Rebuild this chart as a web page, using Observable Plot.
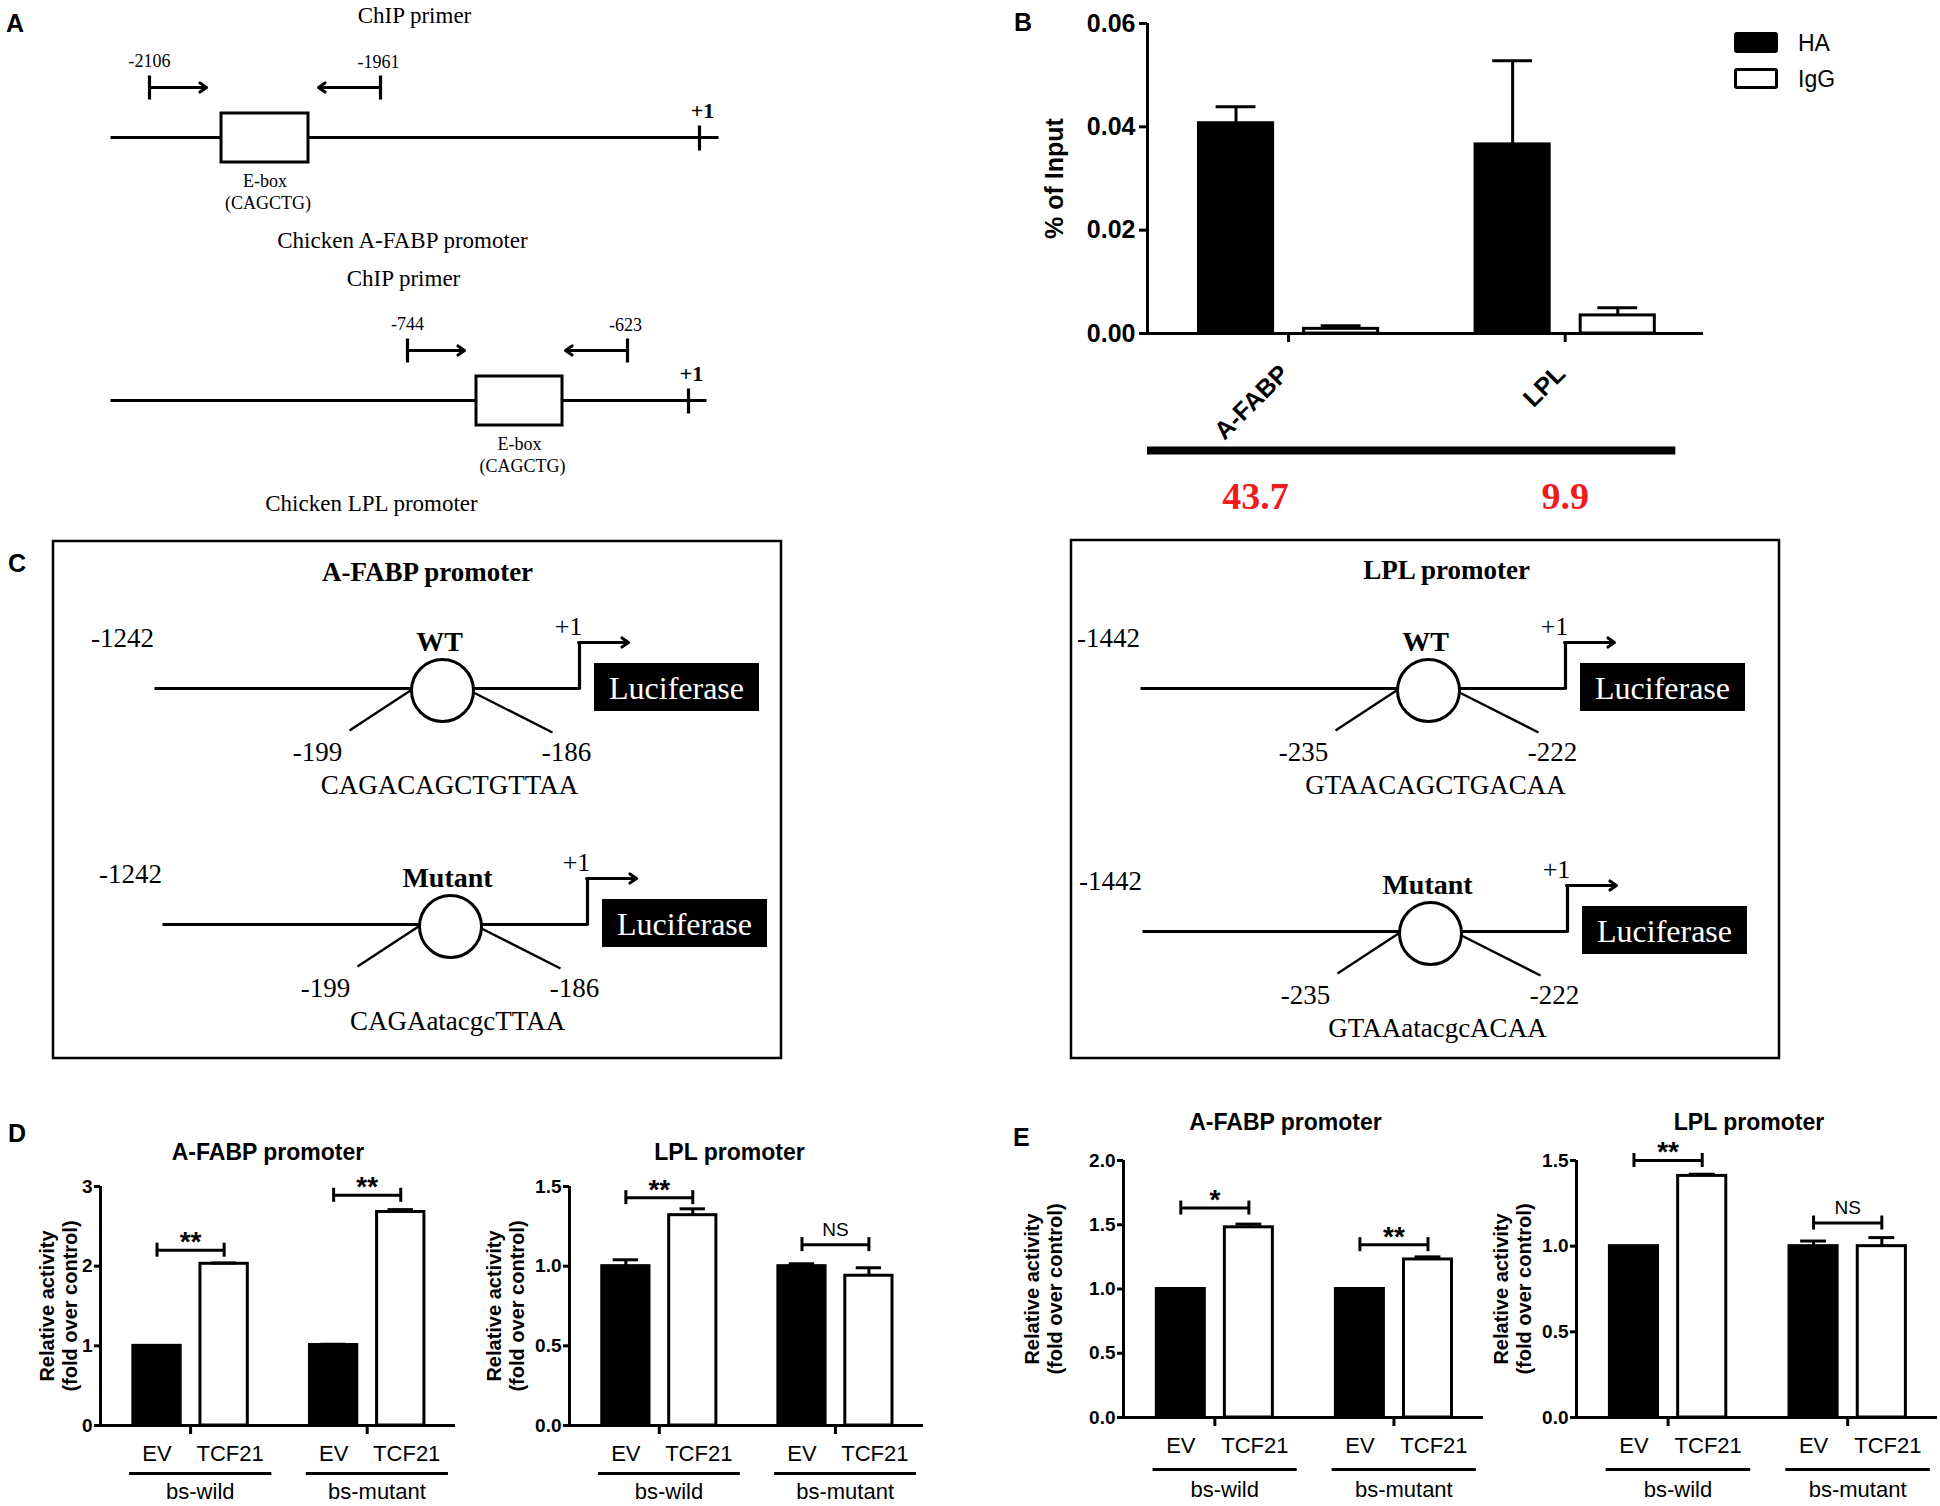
<!DOCTYPE html>
<html>
<head>
<meta charset="utf-8">
<script src="https://cdn.jsdelivr.net/npm/d3@7"></script>
<script src="https://cdn.jsdelivr.net/npm/@observablehq/plot@0.6"></script>
<style>
  html, body { margin: 0; padding: 0; background: #fff; }
  #fig { position: relative; width: 1940px; height: 1506px; background: #fff; overflow: hidden;
         font-family: Arial, 'Liberation Sans', Helvetica, sans-serif; color: #000; }
  .letter { position: absolute; font-weight: bold; font-size: 25px; line-height: 25px; }
  .lg-sw { position: absolute; width: 44px; height: 21px; box-sizing: border-box; border-radius: 3px; }
  .lg-tx { position: absolute; font-size: 23px; line-height: 23px; }
</style>
</head>
<body>
<div id="fig"></div>
<script>
// ======================= DATA =======================
// Panel A – ChIP primer schematics
const aPromoterNames = ["Chicken A-FABP promoter", "Chicken LPL promoter"];
const aPrimerTitle = "ChIP primer";
const aPrimerPos = [["-2106", "-1961"], ["-744", "-623"]];
const aMotif = "E-box";
const aMotifSeq = "(CAGCTG)";
const tssLabel = "+1";

// Panel B – ChIP-qPCR (% of input)
const chipTargets = ["A-FABP", "LPL"];
const chipAntibodies = ["HA", "IgG"];
const chipHA = [0.0407, 0.0366];
const chipHAErr = [0.0032, 0.0162];
const chipIgG = [0.0009, 0.0035];
const chipIgGErr = [0.0006, 0.0015];
const chipTicks = [0, 0.02, 0.04, 0.06];
const chipFold = ["43.7", "9.9"];

// Panel C – luciferase reporter constructs
const cPromoterTitles = ["A-FABP promoter", "LPL promoter"];
const cVariants = ["WT", "Mutant"];
const cStart = ["-1242", "-1442"];
const cSiteFrom = ["-199", "-235"];
const cSiteTo = ["-186", "-222"];
const cWtSeq = ["CAGACAGCTGTTAA", "GTAACAGCTGACAA"];
const cMutSeq = ["CAGAatacgcTTAA", "GTAAatacgcACAA"];
const reporter = "Luciferase";

// Panels D & E – reporter activity (order: bs-wild EV, bs-wild TCF21, bs-mutant EV, bs-mutant TCF21)
const constructs = ["bs-wild", "bs-mutant"];
const vectors = ["EV", "TCF21"];
const yLabelD = "Relative activity\n(fold over control)";
const dAfabpMean = [1.00, 2.03, 1.01, 2.68];
const dAfabpErr  = [0.00, 0.01, 0.01, 0.03];
const dAfabpSig  = ["**", "**"];
const dAfabpSigY = [2.20, 2.89];
const dLplMean = [1.00, 1.32, 1.00, 0.94];
const dLplErr  = [0.04, 0.04, 0.015, 0.05];
const dLplSig  = ["**", "NS"];
const dLplSigY = [1.43, 1.135];
const eAfabpMean = [1.00, 1.48, 1.00, 1.23];
const eAfabpErr  = [0.00, 0.025, 0.00, 0.02];
const eAfabpSig  = ["*", "**"];
const eAfabpSigY = [1.63, 1.345];
const eLplMean = [1.00, 1.41, 1.00, 1.00];
const eLplErr  = [0.00, 0.01, 0.03, 0.05];
const eLplSig  = ["**", "NS"];
const eLplSigY = [1.50, 1.135];
const ticks3 = [0, 1, 2, 3];
const ticks15 = [0, 0.5, 1.0, 1.5];
const ticks20 = [0, 0.5, 1.0, 1.5, 2.0];

// ======================= HELPERS =======================
const SANS = "Arial, 'Liberation Sans', Helvetica, sans-serif";
const SERIF = "'Times New Roman', 'Liberation Serif', 'DejaVu Serif', serif";
const fig = document.getElementById("fig");
function place(node, left, top) {
  node.style.position = "absolute";
  node.style.left = left + "px";
  node.style.top = top + "px";
  node.style.maxWidth = "none";
  fig.appendChild(node);
}
function addDiv(cls, text, left, top, extra) {
  const d = document.createElement("div");
  d.className = cls; d.textContent = text || "";
  d.style.left = left + "px"; d.style.top = top + "px";
  if (extra) Object.assign(d.style, extra);
  fig.appendChild(d);
}

// ======================= DIAGRAMS (A & C) =======================
const links = [], thinLinks = [], arrows = [], boxes = [], frames = [], circles = [],
      texts = [], boldTexts = [], lucRects = [], lucTexts = [];

const aLayout = [
  {ly: 137, lineX: [110, 718], box: [221, 308], plus: 699, primers: [149, 380], chip: 414, name: 402},
  {ly: 400, lineX: [110, 706], box: [476, 562], plus: 688, primers: [407, 627], chip: 403, name: 371}
];
aLayout.forEach((c, i) => {
  const ly = c.ly, [p0, p1] = c.primers, bx = (c.box[0] + c.box[1]) / 2;
  links.push({x1: c.lineX[0], y1: ly, x2: c.lineX[1], y2: ly});
  links.push({x1: c.plus, y1: ly - 12, x2: c.plus, y2: ly + 13});
  links.push({x1: p0, y1: ly - 62, x2: p0, y2: ly - 38});
  links.push({x1: p1, y1: ly - 62, x2: p1, y2: ly - 38});
  arrows.push({x1: p0, y1: ly - 50, x2: p0 + 57, y2: ly - 50});
  arrows.push({x1: p1, y1: ly - 50, x2: p1 - 62, y2: ly - 50});
  boxes.push({x1: c.box[0], x2: c.box[1], y1: ly - 24, y2: ly + 25});
  texts.push({x: c.chip, y: ly - 122, t: aPrimerTitle, s: 23});
  texts.push({x: p0, y: ly - 76, t: aPrimerPos[i][0], s: 18});
  texts.push({x: p1 - 2, y: ly - 75, t: aPrimerPos[i][1], s: 18});
  texts.push({x: bx, y: ly + 44, t: aMotif, s: 18});
  texts.push({x: bx + 3, y: ly + 66, t: aMotifSeq, s: 18});
  texts.push({x: c.name, y: ly + 103, t: aPromoterNames[i], s: 23});
  boldTexts.push({x: c.plus + 3, y: ly - 27, t: tssLabel, s: 22});
});

const cLayout = [
  {frame: [53, 781, 541, 1058], title: [427, 572], rows: [{cx: 442, ly: 688}, {cx: 450, ly: 924}]},
  {frame: [1071, 1779, 540, 1058], title: [1446, 570], rows: [{cx: 1428, ly: 688}, {cx: 1430, ly: 931}]}
];
cLayout.forEach((p, k) => {
  frames.push({x1: p.frame[0], x2: p.frame[1], y1: p.frame[2], y2: p.frame[3]});
  boldTexts.push({x: p.title[0], y: p.title[1], t: cPromoterTitles[k], s: 27});
  p.rows.forEach((r, j) => {
    const {cx, ly} = r;
    texts.push({x: cx - 320, y: ly - 50, t: cStart[k], s: 27});
    links.push({x1: cx - 288, y1: ly, x2: cx + 137, y2: ly});
    thinLinks.push({x1: cx - 32, y1: ly + 2, x2: cx - 93, y2: ly + 42});
    thinLinks.push({x1: cx + 31, y1: ly + 4, x2: cx + 110, y2: ly + 44});
    circles.push({x: cx, y: ly + 2});
    boldTexts.push({x: cx - 3, y: ly - 46, t: cVariants[j], s: 28});
    texts.push({x: cx - 125, y: ly + 64, t: cSiteFrom[k], s: 27});
    texts.push({x: cx + 124, y: ly + 64, t: cSiteTo[k], s: 27});
    texts.push({x: cx + 7, y: ly + 97, t: (j ? cMutSeq : cWtSeq)[k], s: 27});
    links.push({x1: cx + 137, y1: ly + 1, x2: cx + 137, y2: ly - 46});
    arrows.push({x1: cx + 136, y1: ly - 46, x2: cx + 186, y2: ly - 46});
    texts.push({x: cx + 126, y: ly - 62, t: tssLabel, s: 26});
    lucRects.push({x1: cx + 152, x2: cx + 317, y1: ly - 25, y2: ly + 23});
    lucTexts.push({x: cx + 234, y: ly, t: reporter});
  });
});

const diagram = Plot.plot({
  width: 1940, height: 1506, margin: 0,
  x: {domain: [0, 1940], range: [0, 1940], axis: null},
  y: {domain: [0, 1506], range: [0, 1506], axis: null},
  style: {background: "transparent", overflow: "visible", maxWidth: "none"},
  marks: [
    Plot.rect(frames, {x1: "x1", x2: "x2", y1: "y1", y2: "y2", fill: "none", stroke: "black", strokeWidth: 2.5}),
    Plot.link(links, {x1: "x1", y1: "y1", x2: "x2", y2: "y2", stroke: "black", strokeWidth: 3.2}),
    Plot.link(thinLinks, {x1: "x1", y1: "y1", x2: "x2", y2: "y2", stroke: "black", strokeWidth: 2.4}),
    Plot.arrow(arrows, {x1: "x1", y1: "y1", x2: "x2", y2: "y2", stroke: "black", strokeWidth: 3, headLength: 4, headAngle: 70}),
    Plot.rect(boxes, {x1: "x1", x2: "x2", y1: "y1", y2: "y2", fill: "white", stroke: "black", strokeWidth: 3}),
    Plot.dot(circles, {x: "x", y: "y", r: 31, fill: "white", stroke: "black", strokeWidth: 3}),
    Plot.rect(lucRects, {x1: "x1", x2: "x2", y1: "y1", y2: "y2", fill: "black"}),
    Plot.text(lucTexts, {x: "x", y: "y", text: "t", fill: "white", fontFamily: SERIF, fontSize: 32}),
    Plot.text(texts, {x: "x", y: "y", text: "t", fill: "black", fontFamily: SERIF, fontSize: d => d.s}),
    Plot.text(boldTexts, {x: "x", y: "y", text: "t", fill: "black", fontFamily: SERIF, fontWeight: "bold", fontSize: d => d.s})
  ]
});
place(diagram, 0, 0);

// ======================= BAR CHARTS (B, D, E) =======================
const OFF = 0.19, HALF = 0.134, CAP = 0.072, XD = [-0.51, 1.5];

function barChart(c) {
  const frameW = c.R - c.L, frameH = c.B - c.T;
  const width = c.mL + frameW + c.mR, height = c.mT + frameH + c.mB;
  const rows = c.means.map((m, i) => {
    const gi = Math.floor(i / 2), ci = i % 2;
    return {gi, ci, cond: c.conds[ci], x: gi + (ci ? OFF : -OFF), mean: m, err: c.errs[i]};
  });
  const grp = c.groups.map((g, gi) => ({gi, g}));
  const withErr = rows.filter(d => d.err > 0);
  const tp = c.tickPad;
  const marks = [
    Plot.rect(rows.filter(d => d.ci === 0), {x1: d => d.x - HALF, x2: d => d.x + HALF, y1: 0, y2: "mean",
      fill: "black", stroke: "black", strokeWidth: 3}),
    Plot.rect(rows.filter(d => d.ci === 1), {x1: d => d.x - HALF, x2: d => d.x + HALF, y1: 0, y2: "mean",
      fill: "white", stroke: "black", strokeWidth: 3}),
    Plot.ruleX(withErr, {x: "x", y1: "mean", y2: d => d.mean + d.err, strokeWidth: 3}),
    Plot.ruleY(withErr, {y: d => d.mean + d.err, x1: d => d.x - CAP, x2: d => d.x + CAP, strokeWidth: 3}),
    Plot.ruleY([0], {x1: XD[0], x2: XD[1], strokeWidth: 3}),
    Plot.ruleX([XD[0]], {y1: 0, y2: c.yMax, strokeWidth: 3}),
    Plot.ruleY(c.ticks, {y: d => d, x1: XD[0], x2: XD[0], insetLeft: -c.tickLen, strokeWidth: 3}),
    Plot.text(c.ticks, {x: XD[0], y: d => d, text: c.fmt, dx: -(c.tickLen + tp), textAnchor: "end",
      fontWeight: "bold", fontSize: c.tickFont, fontFamily: SANS}),
    Plot.ruleX(grp, {x: "gi", y1: 0, y2: 0, insetBottom: -9, strokeWidth: 3}),
    Plot.text([c.ylabel], {frameAnchor: "left", rotate: -90, dx: c.ylabelDx, textAnchor: "middle", lineAnchor: "middle",
      fontWeight: "bold", fontSize: c.ylabelSize, lineHeight: 1.15, fontFamily: SANS})
  ];
  if (c.title) {
    marks.push(Plot.text([c.title], {frameAnchor: "top", dx: c.titleDx, dy: c.titleDy, lineAnchor: "middle",
      textAnchor: "middle", fontWeight: "bold", fontSize: 23, fontFamily: SANS}));
  }
  if (c.sig) {
    const sigRows = c.sig.map((s, gi) => ({gi, s, y: c.sigY[gi]}));
    const ends = sigRows.flatMap(d => [{x: d.gi - OFF, y: d.y}, {x: d.gi + OFF, y: d.y}]);
    marks.push(
      Plot.ruleY(sigRows, {y: "y", x1: d => d.gi - OFF, x2: d => d.gi + OFF, strokeWidth: 3}),
      Plot.ruleX(ends, {x: "x", y1: "y", y2: "y", insetTop: -7, insetBottom: -7, strokeWidth: 3}),
      Plot.text(sigRows.filter(d => d.s !== "NS"), {x: "gi", y: "y", text: "s", dy: -8,
        fontWeight: "bold", fontSize: 28, fontFamily: SANS}),
      Plot.text(sigRows.filter(d => d.s === "NS"), {x: "gi", y: "y", text: "s", dy: -15,
        fontSize: 19, fontFamily: SANS})
    );
  }
  if (c.xLabels) {
    marks.push(
      Plot.text(rows.filter(d => d.ci === 0), {x: "x", y: 0, text: "cond", dy: c.labelDy, fontSize: 22, fontFamily: SANS}),
      Plot.text(rows.filter(d => d.ci === 1), {x: "x", y: 0, text: "cond", dy: c.labelDy, dx: 6, fontSize: 22, fontFamily: SANS}),
      Plot.ruleY(grp, {y: 0, x1: d => d.gi - 0.345, x2: d => d.gi + 0.46, dy: c.underDy, strokeWidth: 3}),
      Plot.text(grp, {x: d => d.gi + 0.055, y: 0, text: "g", dy: c.groupDy, fontSize: 22, fontFamily: SANS})
    );
  }
  if (c.extra) marks.push(...c.extra(grp));
  const svg = Plot.plot({
    width, height,
    marginLeft: c.mL, marginRight: c.mR, marginTop: c.mT, marginBottom: c.mB,
    x: {domain: XD, axis: null},
    y: {domain: [0, c.yMax], axis: null},
    style: {background: "transparent", overflow: "visible", maxWidth: "none", fontFamily: SANS},
    marks
  });
  place(svg, c.L - c.mL, c.T - c.mT);
}

// ---- Panel B ----
const chipMeans = chipTargets.flatMap((t, i) => [chipHA[i], chipIgG[i]]);
const chipErrs = chipTargets.flatMap((t, i) => [chipHAErr[i], chipIgGErr[i]]);
const foldNudge = [-0.12, 0];
barChart({
  L: 1147, R: 1703, T: 23, B: 333, mL: 100, mR: 10, mT: 15, mB: 190,
  groups: chipTargets, conds: chipAntibodies, means: chipMeans, errs: chipErrs,
  yMax: 0.06, ticks: chipTicks, fmt: d3.format(".2f"), tickFont: 25, tickLen: 8, tickPad: 4,
  ylabel: "% of Input", ylabelDx: -94, ylabelSize: 25,
  extra: grp => [
    Plot.text(grp, {x: "gi", y: 0, text: "g", rotate: -45, textAnchor: "end", dx: -4, dy: 36,
      fontWeight: "bold", fontSize: 25, fontFamily: SANS}),
    Plot.ruleY([0], {x1: XD[0], x2: 1.40, dy: 117, strokeWidth: 8}),
    Plot.text(grp.map(d => ({gi: d.gi, v: chipFold[d.gi]})), {x: d => d.gi + foldNudge[d.gi], y: 0, text: "v", dy: 163,
      fill: "#ee1d1d", fontFamily: SERIF, fontWeight: "bold", fontSize: 38})
  ]
});
// legend for B
addDiv("lg-sw", "", 1734, 32, {background: "#000"});
addDiv("lg-sw", "", 1734, 68, {background: "#fff", border: "3px solid #000"});
addDiv("lg-tx", chipAntibodies[0], 1798, 32);
addDiv("lg-tx", chipAntibodies[1], 1798, 68);

// ---- Panel D ----
barChart({
  L: 100, R: 455, T: 1186, B: 1425, mL: 100, mR: 12, mT: 62, mB: 81,
  groups: constructs, conds: vectors, means: dAfabpMean, errs: dAfabpErr,
  yMax: 3, ticks: ticks3, fmt: d3.format("d"), tickFont: 19, tickLen: 6, tickPad: 2,
  ylabel: yLabelD, ylabelDx: -42, ylabelSize: 20,
  title: "A-FABP promoter", titleDx: -10, titleDy: -34,
  sig: dAfabpSig, sigY: dAfabpSigY, xLabels: true, labelDy: 28, underDy: 48, groupDy: 66
});
barChart({
  L: 569, R: 923, T: 1186, B: 1425, mL: 110, mR: 12, mT: 62, mB: 81,
  groups: constructs, conds: vectors, means: dLplMean, errs: dLplErr,
  yMax: 1.5, ticks: ticks15, fmt: d3.format(".1f"), tickFont: 19, tickLen: 6, tickPad: 2,
  ylabel: yLabelD, ylabelDx: -64, ylabelSize: 20,
  title: "LPL promoter", titleDx: -17, titleDy: -34,
  sig: dLplSig, sigY: dLplSigY, xLabels: true, labelDy: 28, underDy: 48, groupDy: 66
});

// ---- Panel E ----
barChart({
  L: 1123, R: 1483, T: 1160, B: 1417, mL: 110, mR: 5, mT: 60, mB: 89,
  groups: constructs, conds: vectors, means: eAfabpMean, errs: eAfabpErr,
  yMax: 2.0, ticks: ticks20, fmt: d3.format(".1f"), tickFont: 19, tickLen: 6, tickPad: 2,
  ylabel: yLabelD, ylabelDx: -80, ylabelSize: 20,
  title: "A-FABP promoter", titleDx: -18, titleDy: -38,
  sig: eAfabpSig, sigY: eAfabpSigY, xLabels: true, labelDy: 28, underDy: 52, groupDy: 72
});
barChart({
  L: 1576, R: 1937, T: 1160, B: 1417, mL: 90, mR: 3, mT: 60, mB: 89,
  groups: constructs, conds: vectors, means: eLplMean, errs: eLplErr,
  yMax: 1.5, ticks: ticks15, fmt: d3.format(".1f"), tickFont: 19, tickLen: 6, tickPad: 2,
  ylabel: yLabelD, ylabelDx: -64, ylabelSize: 20,
  title: "LPL promoter", titleDx: -8, titleDy: -38,
  sig: eLplSig, sigY: eLplSigY, xLabels: true, labelDy: 28, underDy: 52, groupDy: 72
});

// ---- panel letters ----
addDiv("letter", "A", 6, 11);
addDiv("letter", "B", 1014, 10);
addDiv("letter", "C", 8, 551);
addDiv("letter", "D", 8, 1121);
addDiv("letter", "E", 1013, 1125);
</script>
</body>
</html>
